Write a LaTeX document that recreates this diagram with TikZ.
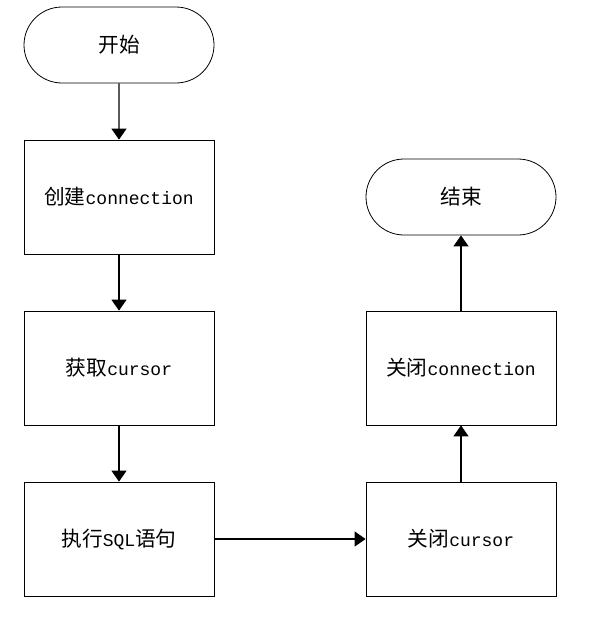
\documentclass[tikz,border=0pt]{standalone}
\usepackage{fontspec}
\setmainfont{Liberation Mono}
\newfontfamily\cjk[Scale=1.15]{Noto Sans CJK SC}
\usetikzlibrary{arrows.meta,shapes.misc}
\tikzset{
  box/.style={draw,line width=0.8pt,minimum width=190pt,minimum height=114pt,inner sep=0pt,font=\fontsize{18}{20}\selectfont},
  term/.style={box,rounded rectangle,minimum height=76pt},
  flow/.style={line width=1.4pt,-{Triangle[width=15pt,length=11pt]}}
}
\begin{document}
\begin{tikzpicture}[x=1pt,y=-1pt]
\useasboundingbox[fill=white] (0,0) rectangle (606,627);
\node[term] (start) at (119,45) {\cjk 开始};
\node[box] (conn) at (119,197) {{\cjk 创建}connection};
\node[box] (cur) at (119,368) {{\cjk 获取}cursor};
\node[box] (sql) at (119,539) {{\cjk 执行}SQL{\cjk 语句}};
\node[box] (ccur) at (461,539) {{\cjk 关闭}cursor};
\node[box] (cconn) at (461,368) {{\cjk 关闭}connection};
\node[term] (stop) at (461,197) {\cjk 结束};
% arrows
\foreach \a/\b in {start/conn, conn/cur, cur/sql, sql/ccur, ccur/cconn, cconn/stop}
\draw[flow] (\a) -- (\b);
\end{tikzpicture}
\end{document}
